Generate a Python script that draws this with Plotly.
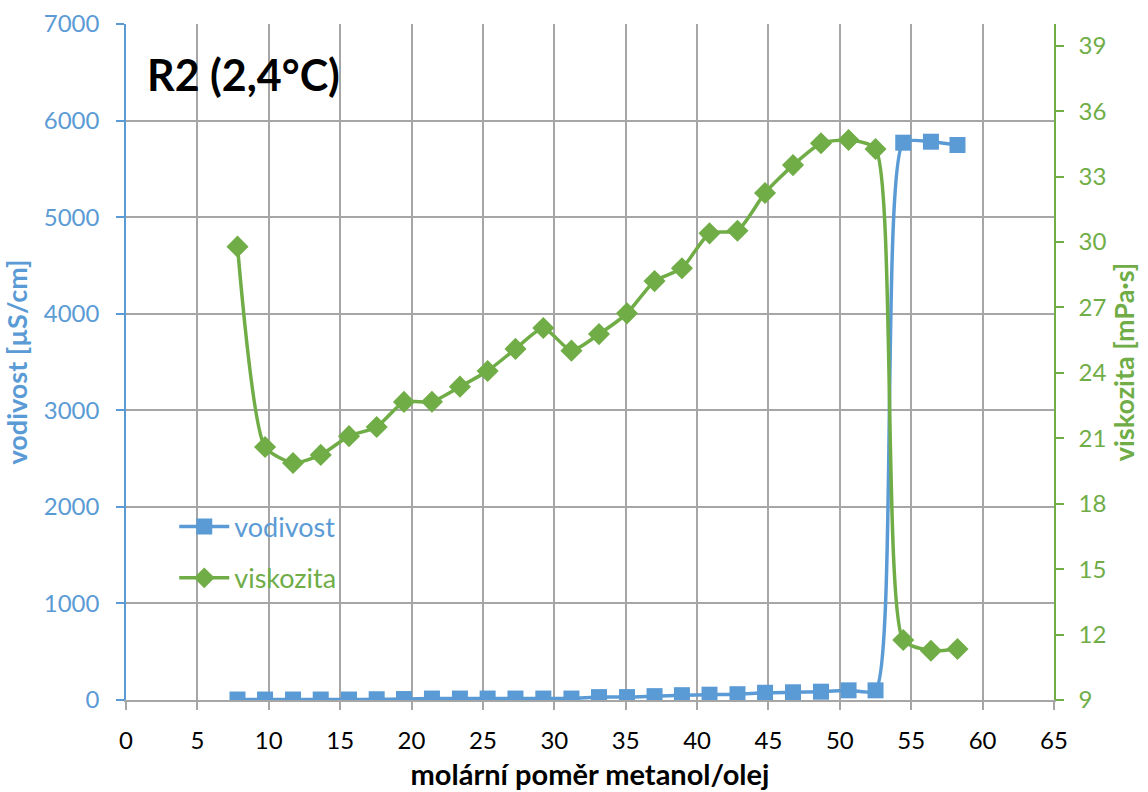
import plotly.graph_objects as go

# Data
molar_ratio = [7.81, 9.74, 11.70, 13.64, 15.62, 17.56, 19.47, 21.43, 23.39, 25.33,
               27.28, 29.23, 31.20, 33.13, 35.09, 37.02, 38.94, 40.87, 42.83, 44.76,
               46.72, 48.68, 50.61, 52.50, 54.44, 56.38, 58.24]
vodivost = [5, 5, 5, 5, 5, 8, 10, 15, 15, 15,
            15, 15, 15, 30, 30, 40, 50, 55, 60, 75,
            80, 86, 100, 100, 5771, 5781, 5747]
viskozita = [29.79, 20.6, 19.87, 20.24, 21.1, 21.52, 22.67, 22.68, 23.37, 24.09,
             25.10, 26.06, 25.02, 25.78, 26.73, 28.21, 28.80, 30.40, 30.52, 32.25,
             33.53, 34.53, 34.68, 34.27, 11.75, 11.26, 11.34]

BLUE = "#5B9BD5"
GREEN = "#70AD47"
GRID = "#A6A6A6"
FONT = "Lato"

fig = go.Figure()
fig.add_trace(go.Scatter(
    x=molar_ratio, y=vodivost, name="vodivost", mode="lines+markers",
    line=dict(color=BLUE, width=3.5, shape="spline", smoothing=0.6),
    marker=dict(symbol="square", size=16, color=BLUE),
    legend="legend", showlegend=True, yaxis="y"))
fig.add_trace(go.Scatter(
    x=molar_ratio, y=viskozita, name="viskozita", mode="lines+markers",
    line=dict(color=GREEN, width=3.5, shape="spline", smoothing=0.6),
    marker=dict(symbol="diamond", size=17, color=GREEN),
    legend="legend2", showlegend=True, yaxis="y2"))

fig.update_layout(
    width=1148, height=792,
    margin=dict(l=126, r=94, t=24, b=92, autoexpand=False),
    showlegend=True,
    paper_bgcolor="white", plot_bgcolor="white",
    font=dict(family=FONT, size=24, color="black"),
    xaxis=dict(
        range=[0, 65], tick0=0, dtick=5, showgrid=True, gridcolor=GRID, gridwidth=1.5,
        zeroline=False, showline=True, linecolor=GRID, linewidth=1.5,
        ticks="outside", ticklen=8, tickcolor=GRID, tickwidth=1.5, automargin=False,
        tickfont=dict(family=FONT, size=24, color="black"), ticklabelstandoff=10,
        title=dict(text="<b>molární poměr metanol/olej</b>", standoff=12,
                   font=dict(family=FONT, size=29, color="black"))),
    yaxis=dict(
        range=[0, 7000], tick0=0, dtick=1000, showgrid=True, gridcolor=GRID, gridwidth=1.5,
        zeroline=False, showline=True, linecolor=BLUE, linewidth=1.5, automargin=False,
        ticks="outside", ticklen=8, tickcolor=BLUE, tickwidth=1.5,
        tickfont=dict(family=FONT, size=24, color=BLUE), ticklabelstandoff=12,
        title=dict(text="<b>vodivost [µS/cm]</b>", standoff=10,
                   font=dict(family=FONT, size=27, color=BLUE))),
    yaxis2=dict(
        range=[9, 40], tick0=9, dtick=3, overlaying="y", side="right", showgrid=False,
        zeroline=False, showline=True, linecolor=GREEN, linewidth=1.5, automargin=False,
        ticks="outside", ticklen=8, tickcolor=GREEN, tickwidth=1.5,
        tickfont=dict(family=FONT, size=24, color=GREEN), ticklabelstandoff=10,
        title=dict(text="<b>viskozita [mPa·s]</b>", standoff=10,
                   font=dict(family=FONT, size=27, color=GREEN))),
    legend=dict(x=0.052, y=0.256, xanchor="left", yanchor="middle",
                bgcolor="rgba(0,0,0,0)", itemwidth=50,
                font=dict(family=FONT, size=27, color=BLUE)),
    legend2=dict(x=0.052, y=0.18, xanchor="left", yanchor="middle",
                 bgcolor="rgba(0,0,0,0)", itemwidth=50,
                 font=dict(family=FONT, size=27, color=GREEN)),
    annotations=[dict(text="<b>R2 (2,4°C)</b>", xref="paper", yref="paper",
                      x=0.02, y=0.925, xanchor="left", yanchor="middle",
                      showarrow=False, font=dict(family=FONT, size=43, color="black"))],
)

fig.write_html("out.html")
